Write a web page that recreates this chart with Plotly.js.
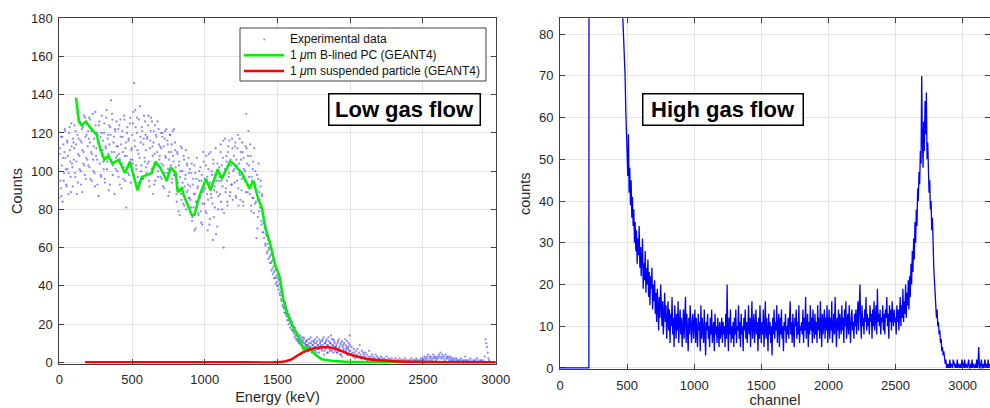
<!DOCTYPE html>
<html><head><meta charset="utf-8">
<script src="https://cdn.plot.ly/plotly-3.0.1.min.js"></script>
<style>html,body{margin:0;padding:0;background:#fff}#chart{width:990px;height:408px}</style>
</head><body><div id="chart"></div>
<script>
// ---------- Left panel: Low gas flow ----------
// experimental data, read in two interleaved passes (5 keV apart, offset 2.5 keV)
const expStartKeV = 0;
const expStepKeV = 5;
const expCounts = [
86,112,91,87,118,107,95,110,121,101,92,115,108,99,123,105,89,113,102,117,
106,124,97,114,88,119,109,127,101,116,93,122,111,104,129,98,118,107,125,113,
103,128,115,96,121,109,130,100,117,92,124,112,106,119,87,126,111,98,120,108,
116,101,125,94,112,132,105,119,90,114,123,137,110,127,103,118,88,121,107,113,
100,122,109,93,127,114,104,118,96,129,108,112,81,120,102,116,98,125,106,111,
119,104,131,146,113,123,101,128,97,109,92,134,115,103,121,96,117,107,126,111,
99,118,124,105,92,116,128,101,113,88,121,109,95,119,104,126,100,114,108,97,
112,96,120,103,91,117,108,122,99,114,87,106,119,101,110,94,121,105,98,115,
102,88,110,94,79,105,97,113,85,100,91,108,82,96,111,89,103,93,99,86,
92,81,104,76,96,88,69,99,84,107,91,78,95,87,102,73,98,83,110,90,
96,79,108,88,69,101,93,75,110,86,98,64,104,90,81,112,95,71,100,87,
102,88,114,95,80,107,60,99,117,91,105,84,110,97,116,89,103,93,112,100,
108,94,115,86,103,112,91,99,117,85,106,96,110,82,101,95,113,130,104,89,
121,97,88,108,79,95,101,86,112,83,93,65,98,76,104,89,81,95,72,87,
78,68,74,62,71,66,58,64,60,55,63,52,57,49,54,47,51,44,49,42,
46,40,43,36,39,33,37,30,34,28,31,26,29,24,27,22,25,21,23,19,
21,17,19,15,18,14,16,12,15,11,13,14,10,12,9,11,13,8,10,9,
11,7,9,6,12,8,10,5,9,7,11,8,6,10,13,7,9,5,8,11,
9,6,12,8,4,10,7,11,9,5,13,8,6,10,7,12,9,5,11,8,
7,9,5,11,6,8,4,10,6,3,9,7,5,12,6,8,4,7,10,14,
6,4,8,5,3,7,5,2,6,4,7,3,5,9,4,2,6,3,5,4,
3,5,2,4,1,3,6,2,3,1,4,2,3,1,2,4,1,3,2,1,
2,1,3,0,2,1,1,2,0,1,3,1,0,2,1,1,0,2,1,0,
1,0,2,1,0,1,1,0,2,0,1,1,0,1,0,2,1,0,1,0,
0,1,1,0,2,0,1,0,1,1,0,2,1,0,1,0,1,2,0,1,
2,1,3,2,1,3,2,4,1,3,2,3,1,2,4,3,2,3,1,2,
3,2,4,3,5,2,3,4,2,3,1,4,2,3,2,3,1,2,3,1,
2,1,1,2,0,1,2,1,0,1,1,0,2,1,0,1,0,1,3,1,
0,1,0,1,0,2,0,1,0,0,1,0,1,0,2,0,1,0,0,1,
1,0,0,1,0,3,12,10,8,5,2,1
];
const expStartKeVB = 2.5;
const expCountsB = [
109,95,118,103,84,114,99,122,107,93,116,101,88,120,111,97,125,104,92,115,
112,99,121,105,130,94,117,108,126,100,115,89,123,110,103,128,96,119,106,121,
117,102,127,110,95,122,106,113,99,131,108,120,93,115,124,104,118,97,129,111,
105,120,96,113,128,101,117,109,124,93,119,106,130,98,115,110,122,101,126,108,
113,97,124,106,118,91,121,110,102,127,95,115,108,123,99,117,104,128,94,112,
106,125,98,116,132,103,120,111,94,127,107,118,100,123,96,114,129,105,119,102,
117,104,129,95,112,121,99,126,108,115,93,124,103,118,110,97,122,106,113,120,
104,118,92,113,99,121,107,95,116,101,110,89,119,103,114,96,108,122,98,111,
97,84,109,91,103,77,100,88,112,94,83,106,92,98,80,104,90,107,86,101,
85,99,74,93,81,103,88,70,96,84,92,77,100,86,79,95,72,89,105,83,
91,103,78,97,85,109,72,94,88,100,83,106,76,92,98,67,89,104,80,95,
97,110,84,103,92,116,78,101,89,108,95,82,113,99,87,106,93,117,85,104,
101,113,87,106,95,119,82,104,98,110,90,115,84,107,97,100,89,112,93,108,
103,91,114,82,97,86,105,78,94,100,84,90,70,96,79,85,92,74,88,68,
73,65,70,61,67,57,62,54,59,52,56,48,53,46,50,44,48,41,45,40,
44,38,41,35,37,32,35,29,32,26,29,25,27,22,24,20,23,18,21,17,
19,16,18,13,16,12,14,11,13,10,12,9,11,13,8,10,12,7,9,11,
9,12,6,10,8,13,7,11,9,6,10,12,8,5,11,9,7,12,10,8,
7,11,9,13,6,10,8,12,5,9,11,7,10,14,6,9,12,8,10,6,
8,5,10,7,12,6,9,4,11,8,6,10,5,9,7,11,4,8,6,9
];
const bLinedEnergy = [115,135,154,183,222,257,280,310,337,365,408,452,486,537,567,601,635,661,693,739,766,800,814,842,858,911,929,963,1009,1039,1089,1117,1174,1197,1255,1307,1335,1369,1392,1415,1450,1484,1514,1541,1564,1610,1633,1679,1713,1759,1805,1885,2000,2200,2500,2800,3000];
const bLinedCounts = [138.5,126,124,126,122,119,112,106,108,104,106,99,105,90,97,98,99,105,102,95,102,99,89,91,87,77,77,87,96,90,101,96,105,104,99,91,95,85,81,71,62,51,45,33,26,18,15,7,8,4,1.6,0.7,0.2,0.1,0,0,0];
const suspEnergy = [177,400,800,1200,1495,1540,1587,1656,1725,1794,1851,1908,1977,2046,2115,2229,2344,2573,2800,3000];
const suspCounts = [0,0,0,0,0,0.3,1.2,4.4,6.8,7.7,7.8,6.8,4.7,3,1.7,0.9,0.35,0.1,0,0];

const seriesNames = ['Experimental data', '1 <i>\u03bc</i>m B-lined PC (GEANT4)', '1 <i>\u03bc</i>m suspended particle (GEANT4)'];
const seriesColors = ['rgba(45,45,255,0.55)', '#00f000', '#ff0000'];
const leftXTicks = [0,500,1000,1500,2000,2500,3000];
const leftYTicks = [0,20,40,60,80,100,120,140,160,180];

// ---------- Right panel: High gas flow ----------
const chStart = 0;
const chStep = 5;
const channelCounts = [
0,0,0,0,0,0,0,0,0,0,0,0,0,0,0,0,0,0,0,0,
0,0,0,0,0,0,0,0,0,0,0,0,0,0,0,0,0,0,0,0,
0,0,0,0,420,400,390,380,370,360,350,340,330,320,310,300,290,280,270,260,
255,248,244,236,233,226,221,215,212,204,199,195,188,184,179,172,169,163,158,151,
146,140,137,131,126,121,117,112,108,103,99,96,92,89,85,79,74,70,62,58,
52,46,56,42,48,39,45,36,41,34,38,30,35,28,33,25,31,27,34,24,
29,22,27,31,19,25,21,28,18,24,20,26,17,23,15,22,19,24,14,20,
16,21,13,18,11,19,15,9,17,12,20,14,10,16,8,13,18,11,15,7,
12,16,9,14,6,13,10,17,8,12,5,15,11,7,13,9,16,6,11,14,
8,12,5,10,14,7,11,17,6,13,9,4,12,8,15,10,6,11,13,7,
10,14,6,12,8,5,13,9,11,4,15,7,12,10,6,14,8,3,11,9,
13,7,10,5,12,8,14,6,9,11,4,13,8,10,6,12,9,5,11,7,
9,12,6,11,8,10,5,13,7,20,9,4,12,8,14,6,10,7,11,5,
12,8,14,6,10,9,15,7,11,5,13,8,10,4,12,9,14,7,11,6,
10,15,8,12,5,11,16,7,10,13,6,9,14,8,11,4,12,7,15,9,
6,11,8,14,5,10,16,7,12,9,4,13,8,11,6,10,3,12,8,14,
7,11,9,15,6,10,13,5,12,8,14,7,10,4,11,9,13,6,10,8,
12,7,10,16,8,11,6,13,9,5,12,10,14,7,11,8,15,6,10,9,
11,8,14,6,12,9,17,7,10,13,5,11,8,15,9,12,6,14,10,7,
13,8,11,6,15,9,12,7,16,10,5,13,8,11,14,7,12,9,15,6,
10,14,7,12,9,16,6,11,13,8,17,10,5,12,9,14,7,13,11,8,
15,9,12,6,14,10,16,7,11,13,8,15,10,6,12,14,9,11,7,13,
10,14,8,12,16,9,13,20,11,7,15,10,12,8,14,11,17,9,13,10,
12,8,15,11,13,7,14,10,16,9,12,15,8,19,11,13,10,14,8,12,
11,15,9,13,8,14,12,17,10,13,7,15,11,14,9,16,12,10,14,11,
12,8,15,11,14,9,13,17,10,15,12,19,11,16,13,20,12,18,15,21,
14,22,17,25,20,28,23,31,26,35,30,38,34,43,40,47,44,52,49,70,
55,48,59,52,64,56,66,50,54,46,42,45,38,40,33,36,28,24,21,17,
15,12,14,10,11,8,9,6,7,4,5,3,4,2,1,2,0,1,0,1,
0,2,0,1,0,0,2,1,0,0,1,0,2,0,1,0,0,1,0,2,
1,0,0,2,0,1,0,0,1,2,0,0,1,0,2,0,1,0,0,1,
0,2,0,1,5,0,0,1,2,0,0,1,0,2,1,0,1,0,2,0,1
];
const rightXTicks = [0,500,1000,1500,2000,2500,3000];
const rightYTicks = [0,10,20,30,40,50,60,70,80];
const panelLabels = ['Low gas flow', 'High gas flow'];

const W = 990, H = 408;
const FONT = 'Liberation Sans, Arial, Helvetica, sans-serif';
const TXT = '#262626';
const px = v => v / W;          // pixel -> paper x
const py = v => 1 - v / H;      // pixel -> paper y

const axisBase = {
  showline: true, linecolor: '#404040', linewidth: 1, mirror: 'ticks',
  ticks: 'inside', ticklen: 5, tickwidth: 1, tickcolor: '#404040',
  showgrid: true, gridcolor: '#e4e4e4', gridwidth: 1, zeroline: false,
  tickfont: {family: FONT, size: 13, color: TXT}, automargin: false,
  tickmode: 'array', layer: 'below traces'
};
const titleFont = {family: FONT, size: 14.5, color: TXT};

const traces = [
  {type: 'scatter', mode: 'markers', name: seriesNames[0], x0: expStartKeV, dx: expStepKeV, y: expCounts,
   xaxis: 'x', yaxis: 'y', marker: {color: seriesColors[0], size: 2.3}, showlegend: false},
  {type: 'scatter', mode: 'markers', name: seriesNames[0], x0: expStartKeVB, dx: expStepKeV, y: expCountsB,
   xaxis: 'x', yaxis: 'y', marker: {color: seriesColors[0], size: 2.3}, showlegend: false},
  {type: 'scatter', mode: 'lines', name: seriesNames[1], x: bLinedEnergy, y: bLinedCounts,
   xaxis: 'x', yaxis: 'y', line: {color: seriesColors[1], width: 2.5}, showlegend: false},
  {type: 'scatter', mode: 'lines', name: seriesNames[2], x: suspEnergy, y: suspCounts,
   xaxis: 'x', yaxis: 'y', line: {color: seriesColors[2], width: 2.5, shape: 'spline'}, showlegend: false},
  {type: 'scatter', mode: 'lines', name: 'counts', x0: chStart, dx: chStep, y: channelCounts,
   xaxis: 'x2', yaxis: 'y2', line: {color: '#0000ff', width: 1.3}, showlegend: false}
];

// legend box drawn as layout decoration (MATLAB-style compact rows)
const legBox = {l: 240, r: 486, t: 28, b: 81};
const legRows = [39.5, 55.3, 71];
const legSampleX = [244, 284];
const legTextX = 288;

const shapes = [
  {type: 'rect', xref: 'paper', yref: 'paper', x0: px(legBox.l), x1: px(legBox.r), y0: py(legBox.b), y1: py(legBox.t),
   line: {color: '#404040', width: 1}, fillcolor: '#fff', layer: 'above'},
  {type: 'circle', xref: 'paper', yref: 'paper', x0: px(263.2), x1: px(265.4), y0: py(40.6), y1: py(38.4),
   line: {width: 0}, fillcolor: seriesColors[0], layer: 'above'},
  {type: 'line', xref: 'paper', yref: 'paper', x0: px(legSampleX[0]), x1: px(legSampleX[1]), y0: py(legRows[1]), y1: py(legRows[1]),
   line: {color: seriesColors[1], width: 2.5}, layer: 'above'},
  {type: 'line', xref: 'paper', yref: 'paper', x0: px(legSampleX[0]), x1: px(legSampleX[1]), y0: py(legRows[2]), y1: py(legRows[2]),
   line: {color: seriesColors[2], width: 2.5}, layer: 'above'}
];

const annotations = seriesNames.map((name, i) => ({
  xref: 'paper', yref: 'paper', x: px(legTextX), y: py(legRows[i]), xanchor: 'left', yanchor: 'middle',
  text: name, showarrow: false, font: {family: FONT, size: 12, color: '#111'}
}));
annotations.push(
  {xref: 'paper', yref: 'paper', x: px(404.5), y: py(110), xanchor: 'center', yanchor: 'middle',
   text: '<b>' + panelLabels[0] + '</b>', showarrow: false,
   font: {family: FONT, size: 22, color: '#000'}, bordercolor: '#000', borderwidth: 1.5, borderpad: 2,
   bgcolor: '#fff', width: 146, height: 26},
  {xref: 'paper', yref: 'paper', x: px(723), y: py(110), xanchor: 'center', yanchor: 'middle',
   text: '<b>' + panelLabels[1] + '</b>', showarrow: false,
   font: {family: FONT, size: 22, color: '#000'}, bordercolor: '#000', borderwidth: 1.5, borderpad: 2,
   bgcolor: '#fff', width: 155, height: 26}
);

const layout = {
  width: W, height: H, margin: {l: 0, r: 0, t: 0, b: 0},
  paper_bgcolor: '#fff', plot_bgcolor: '#fff', showlegend: false,
  font: {family: FONT, color: TXT},
  xaxis: Object.assign({}, axisBase, {domain: [px(59.3), px(495.7)], range: [0, 3000], anchor: 'y',
    tickvals: leftXTicks, ticktext: leftXTicks.map(String), ticklabelstandoff: 4,
    title: {text: 'Energy (keV)', font: titleFont, standoff: 5}}),
  yaxis: Object.assign({}, axisBase, {domain: [py(363.6), py(18.3)], range: [-0.7, 180], anchor: 'x',
    tickvals: leftYTicks, ticktext: leftYTicks.map(String), ticklabelstandoff: 3,
    title: {text: 'Counts', font: titleFont, standoff: 4}}),
  xaxis2: Object.assign({}, axisBase, {domain: [px(560), 1], range: [0, 3204], anchor: 'y2',
    tickvals: rightXTicks, ticktext: rightXTicks.map(String), ticklabelstandoff: 4,
    title: {text: 'channel', font: titleFont, standoff: 5}}),
  yaxis2: Object.assign({}, axisBase, {domain: [py(369.2), py(18.3)], range: [-0.3, 83.8], anchor: 'x2',
    tickvals: rightYTicks, ticktext: rightYTicks.map(String), ticklabelstandoff: 3,
    title: {text: 'counts', font: titleFont, standoff: 4}}),
  shapes: shapes,
  annotations: annotations
};

Plotly.newPlot('chart', traces, layout, {staticPlot: true, displayModeBar: false});
</script>
</body></html>
